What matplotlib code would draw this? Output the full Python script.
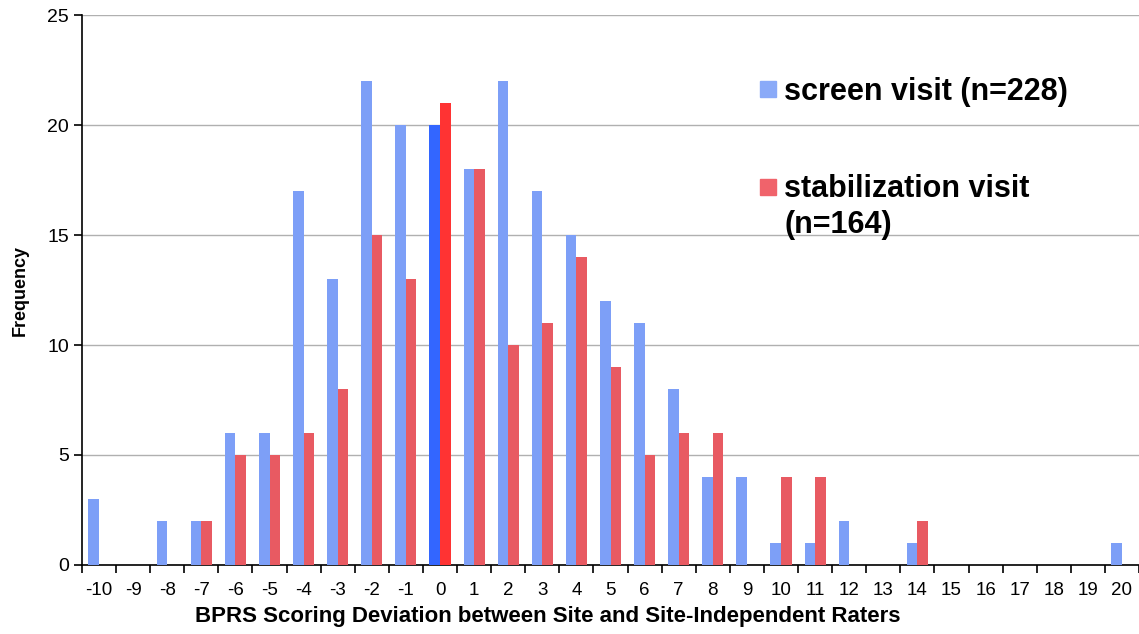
import numpy as np
import matplotlib.pyplot as plt
from matplotlib.patches import Rectangle

plt.rcParams['font.family'] = ['Liberation Sans', 'DejaVu Sans']

# BPRS deviation categories
deviations = list(range(-10, 21))
screen = [3, 0, 2, 2, 6, 6, 17, 13, 22, 20, 20, 18, 22, 17, 15, 12, 11, 8, 4, 4,
          1, 1, 2, 0, 1, 0, 0, 0, 0, 0, 1]
stabil = [0, 0, 0, 2, 5, 5, 6, 8, 15, 13, 21, 18, 10, 11, 14, 9, 5, 6, 6, 0,
          4, 4, 0, 0, 2, 0, 0, 0, 0, 0, 0]
legend_labels = ['screen visit (n=228)', 'stabilization visit', '(n=164)']

blue = '#7d9ff7'
red = '#e85a62'
blue_hi = '#3366ff'
red_hi = '#ff3333'

W, H = 1139, 634
fig = plt.figure(figsize=(W / 100, H / 100), dpi=100)
ax = fig.add_axes([0.072, 0.109, 0.928, 0.867])

x = np.arange(len(deviations))
w = 0.31
bcols = [blue_hi if d == 0 else blue for d in deviations]
rcols = [red_hi if d == 0 else red for d in deviations]
ax.bar(x - w / 2, screen, w, color=bcols, zorder=3)
ax.bar(x + w / 2, stabil, w, color=rcols, zorder=3)

ax.set_xlim(-0.5, len(deviations) - 0.5)
ax.set_ylim(0, 25)
ax.set_yticks(range(0, 26, 5))
ax.set_xticks(x)
ax.set_xticklabels([str(d) for d in deviations])
ax.set_xticks(np.arange(-0.5, len(deviations), 1), minor=True)
ax.tick_params(axis='x', which='major', length=0, labelsize=13.5, pad=12)
ax.tick_params(axis='x', which='minor', length=6, direction='out', width=1.2)
ax.tick_params(axis='y', length=6, direction='out', width=1.2, labelsize=14)
ax.grid(axis='y', color='#b0b0b0', linewidth=1, zorder=0)

for s in ['top', 'right']:
    ax.spines[s].set_visible(False)
ax.spines['left'].set_linewidth(1.2)
ax.spines['bottom'].set_linewidth(1.2)

ax.set_xlabel('BPRS Scoring Deviation between Site and Site-Independent Raters',
              fontsize=16, fontweight='bold')
ax.xaxis.set_label_coords(0.441, -0.074)
ax.set_ylabel('Frequency', fontsize=13, fontweight='bold')
ax.yaxis.set_label_coords(-0.050, 0.5)

# legend drawn by hand (second label wraps under its text, square stays on first line)
def fx(px):
    return px / W

def fy(py):
    return 1 - py / H

fig.patches.append(Rectangle((fx(760), fy(97)), fx(16), 16 / H, color='#8aaaf8',
                             transform=fig.transFigure, figure=fig))
fig.patches.append(Rectangle((fx(760), fy(195)), fx(16), 16 / H, color='#f0636b',
                             transform=fig.transFigure, figure=fig))
fig.text(fx(784), fy(100), legend_labels[0], fontsize=22, fontweight='bold', va='baseline')
fig.text(fx(784), fy(197), legend_labels[1], fontsize=22, fontweight='bold', va='baseline')
fig.text(fx(784), fy(233), legend_labels[2], fontsize=22, fontweight='bold', va='baseline')

fig.savefig('out.png')
